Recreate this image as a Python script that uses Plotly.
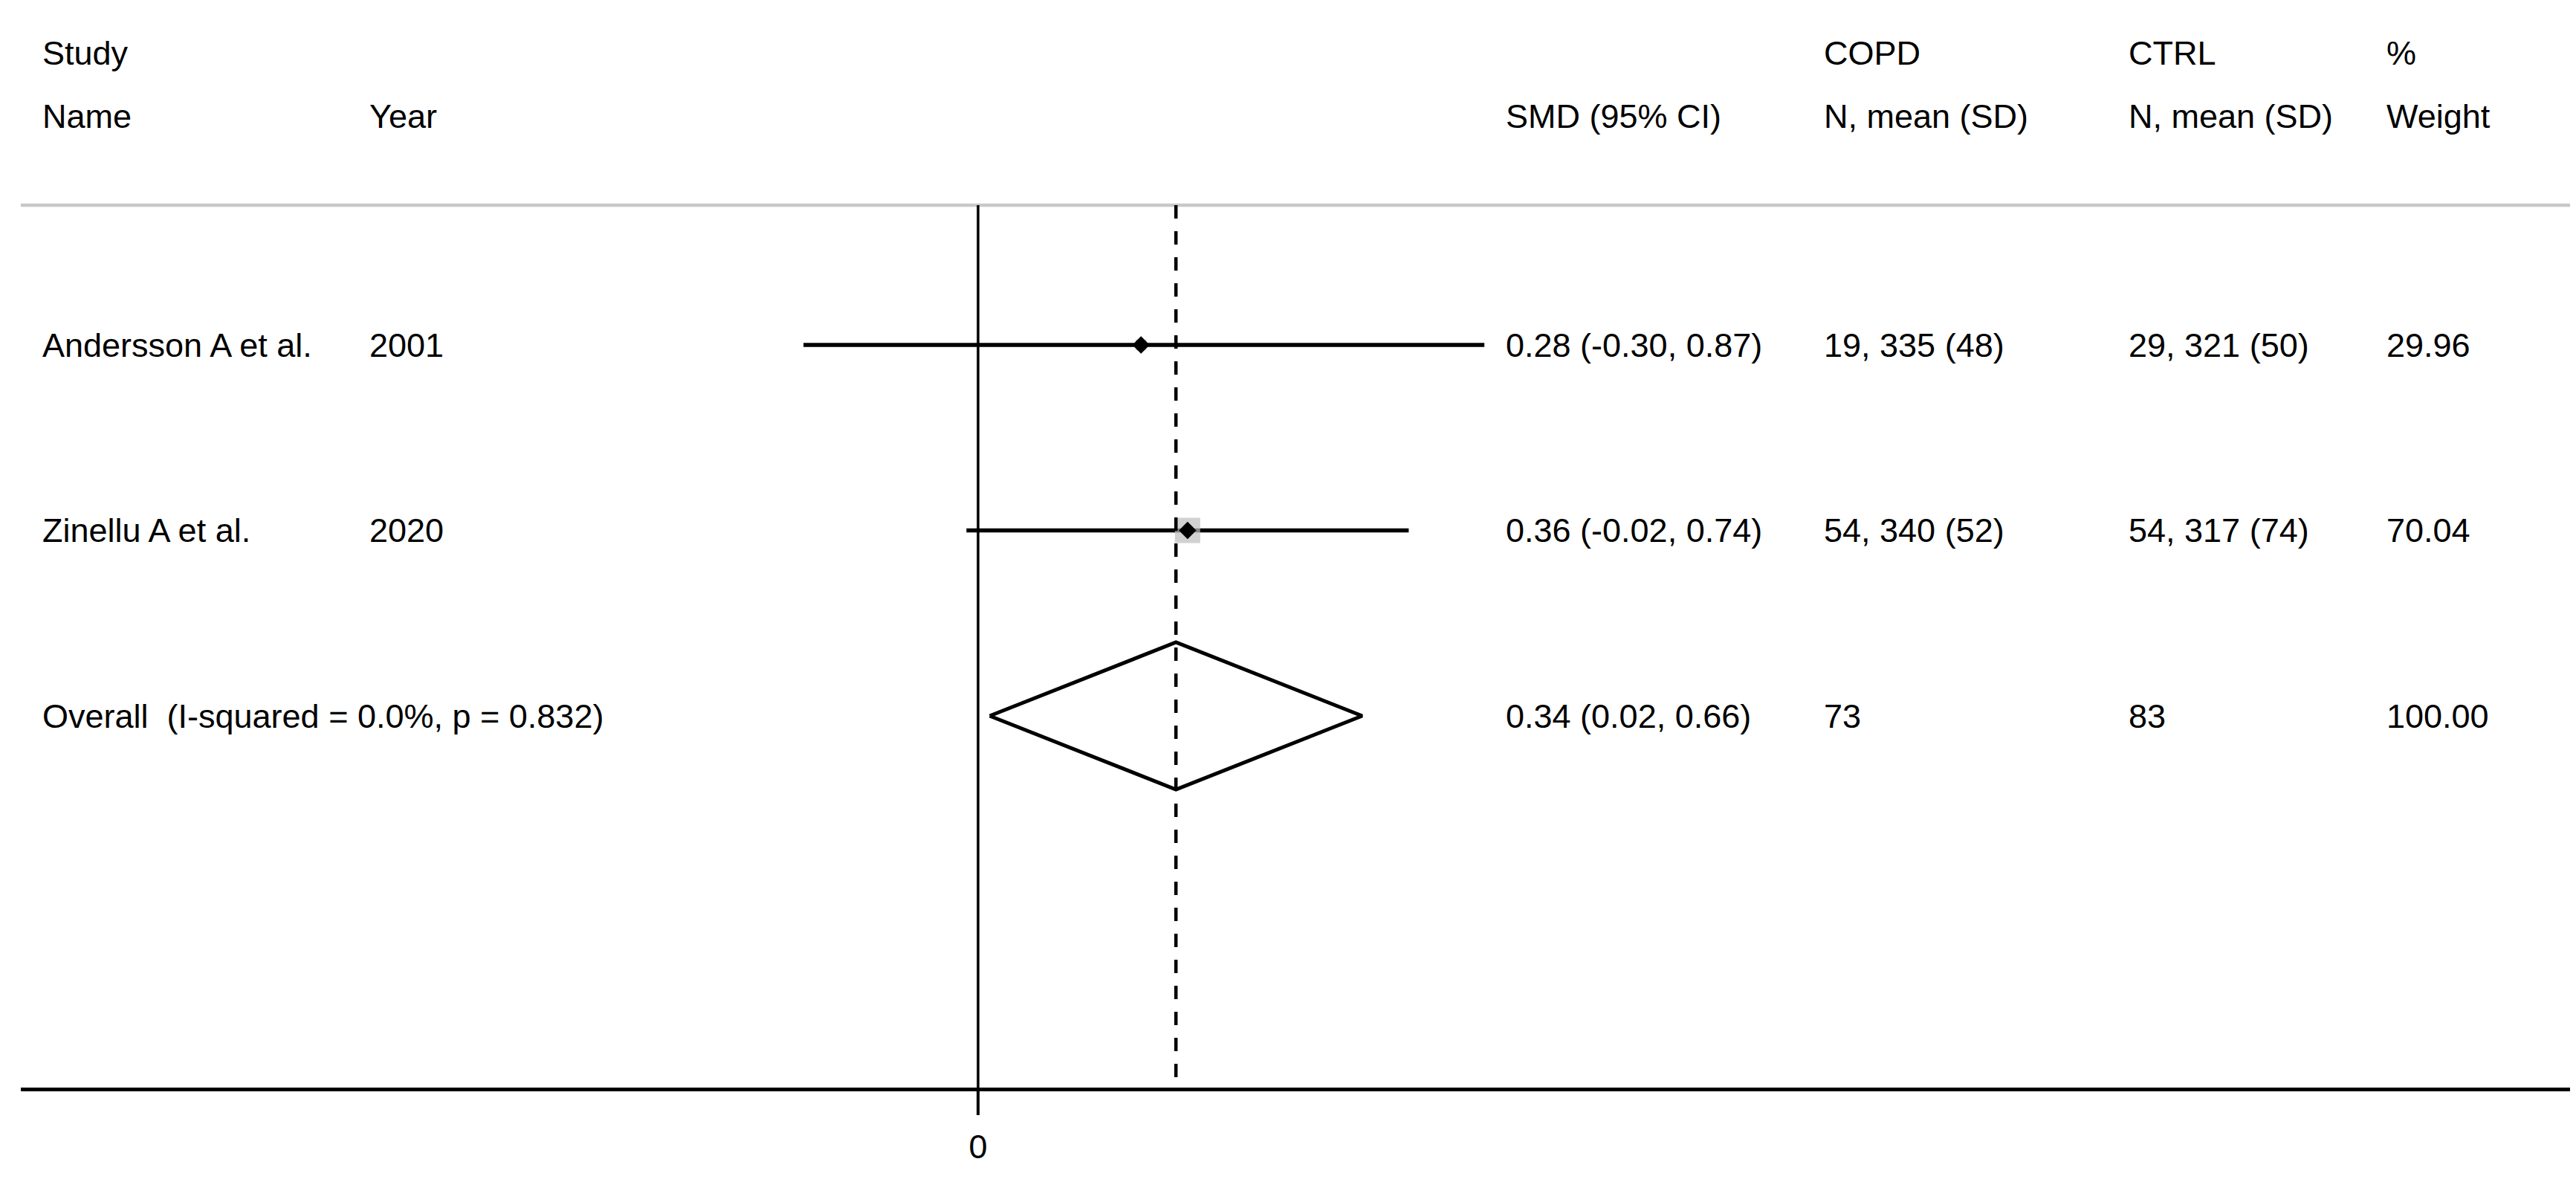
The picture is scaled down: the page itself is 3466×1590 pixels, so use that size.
import plotly.graph_objects as go

# ---------------- data ----------------
study_names = ["Andersson A et al.", "Zinellu A et al."]
study_years = ["2001", "2020"]
smd = [0.28, 0.36]
ci_lo = [-0.30, -0.02]
ci_hi = [0.87, 0.74]
copd_n = [19, 54]
copd_mean = [335, 340]
copd_sd = [48, 52]
ctrl_n = [29, 54]
ctrl_mean = [321, 317]
ctrl_sd = [50, 74]
weights = [29.96, 70.04]

overall_smd = 0.34
overall_lo = 0.02
overall_hi = 0.66
overall_i2 = 0.0
overall_p = 0.832
overall_copd_n = 73
overall_ctrl_n = 83
overall_weight = 100.00

x_ticks = [0]
x_tick_labels = ["0"]

# ---------------- layout constants (page pixels) ----------------
W, H = 3466, 1590
OFF = 8                 # default body margin of the html page
ML = 28 - OFF           # left margin inside the figure
PLOT_BOTTOM = 1463      # page pixel of the x-axis line
MB = H - (PLOT_BOTTOM - OFF)
PX0 = 1316.0            # page pixel of x = 0
PXU = 783.0             # pixels per SMD unit
ROW0 = 464.0            # page pixel of first row
ROWH = 249.5            # pixels per row


def ypx(p):
    """page pixel (vertical) -> row coordinate"""
    return (p - ROW0) / ROWH


def xpaper(p):
    """page pixel (horizontal) -> paper fraction"""
    return (p - OFF - ML) / (W - ML)


FONT = "Liberation Sans, Arial, sans-serif"
FS = 45

rows = list(range(len(study_names)))
overall_row = len(study_names)

fig = go.Figure()

# CI lines
for i in rows:
    fig.add_trace(go.Scatter(
        x=[ci_lo[i], ci_hi[i]], y=[i, i], mode="lines",
        line=dict(color="black", width=5.5), hoverinfo="skip"))

# weight boxes
fig.add_trace(go.Scatter(
    x=smd, y=rows, mode="markers",
    marker=dict(symbol="square", color="#bdbdbd",
                size=[34 * w / max(weights) for w in weights],
                line=dict(width=0)),
    hoverinfo="skip"))

# point estimates
fig.add_trace(go.Scatter(
    x=smd, y=rows, mode="markers",
    marker=dict(symbol="diamond", color="black", size=18, line=dict(width=0)),
    hoverinfo="skip"))

# overall diamond
hh = 99.0 / ROWH
fig.add_trace(go.Scatter(
    x=[overall_lo, overall_smd, overall_hi, overall_smd, overall_lo],
    y=[overall_row, overall_row - hh, overall_row, overall_row + hh, overall_row],
    mode="lines", line=dict(color="black", width=5), hoverinfo="skip"))

y_top_line = ypx(276)
y_bottom = ypx(PLOT_BOTTOM)

# header separator
fig.add_shape(type="line", xref="paper", yref="y", x0=0, x1=1,
              y0=y_top_line, y1=y_top_line,
              line=dict(color="#c8c8c8", width=4.5))
# zero line
fig.add_shape(type="line", xref="x", yref="y", x0=0, x1=0,
              y0=y_top_line, y1=y_bottom,
              line=dict(color="black", width=3.5))
# overall dashed line
fig.add_shape(type="line", xref="x", yref="y", x0=overall_smd, x1=overall_smd,
              y0=y_top_line, y1=y_bottom,
              line=dict(color="black", width=4.5, dash="18px,17px"))

# ---------------- text table ----------------
col_name = 55
col_year = 495
col_smd = 2024
col_copd = 2452
col_ctrl = 2862
col_wt = 3209
hdr1_y = 71
hdr2_y = 156


def txt(px, yv, s):
    fig.add_annotation(x=xpaper(px), y=yv, xref="paper", yref="y",
                       text=s, showarrow=False, xanchor="left", yanchor="middle",
                       font=dict(family=FONT, size=FS, color="black"))


# headers
txt(col_name, ypx(hdr1_y), "Study")
txt(col_copd, ypx(hdr1_y), "COPD")
txt(col_ctrl, ypx(hdr1_y), "CTRL")
txt(col_wt, ypx(hdr1_y), "%")
txt(col_name, ypx(hdr2_y), "Name")
txt(col_year, ypx(hdr2_y), "Year")
txt(col_smd, ypx(hdr2_y), "SMD (95% CI)")
txt(col_copd, ypx(hdr2_y), "N, mean (SD)")
txt(col_ctrl, ypx(hdr2_y), "N, mean (SD)")
txt(col_wt, ypx(hdr2_y), "Weight")

for i in rows:
    txt(col_name, i, study_names[i])
    txt(col_year, i, study_years[i])
    txt(col_smd, i, f"{smd[i]:.2f} ({ci_lo[i]:.2f}, {ci_hi[i]:.2f})")
    txt(col_copd, i, f"{copd_n[i]}, {copd_mean[i]} ({copd_sd[i]})")
    txt(col_ctrl, i, f"{ctrl_n[i]}, {ctrl_mean[i]} ({ctrl_sd[i]})")
    txt(col_wt, i, f"{weights[i]:.2f}")

txt(col_name, overall_row,
    f"Overall\u00a0 (I-squared = {overall_i2:.1f}%, p = {overall_p:.3f})")
txt(col_smd, overall_row, f"{overall_smd:.2f} ({overall_lo:.2f}, {overall_hi:.2f})")
txt(col_copd, overall_row, f"{overall_copd_n}")
txt(col_ctrl, overall_row, f"{overall_ctrl_n}")
txt(col_wt, overall_row, f"{overall_weight:.2f}")

fig.update_layout(
    width=W, height=H,
    margin=dict(l=ML, r=0, t=0, b=MB),
    paper_bgcolor="white", plot_bgcolor="white",
    showlegend=False,
    xaxis=dict(range=[(OFF + ML - PX0) / PXU, (OFF + W - PX0) / PXU],
               showgrid=False, zeroline=False,
               showline=True, linecolor="black", linewidth=5,
               ticks="outside", ticklen=32, tickwidth=3.5, tickcolor="black",
               tickvals=x_ticks, ticktext=x_tick_labels,
               ticklabelstandoff=4,
               tickfont=dict(family=FONT, size=FS, color="black"),
               fixedrange=True),
    yaxis=dict(range=[y_bottom, ypx(OFF)], visible=False, fixedrange=True),
)

fig.write_html("out.html")
